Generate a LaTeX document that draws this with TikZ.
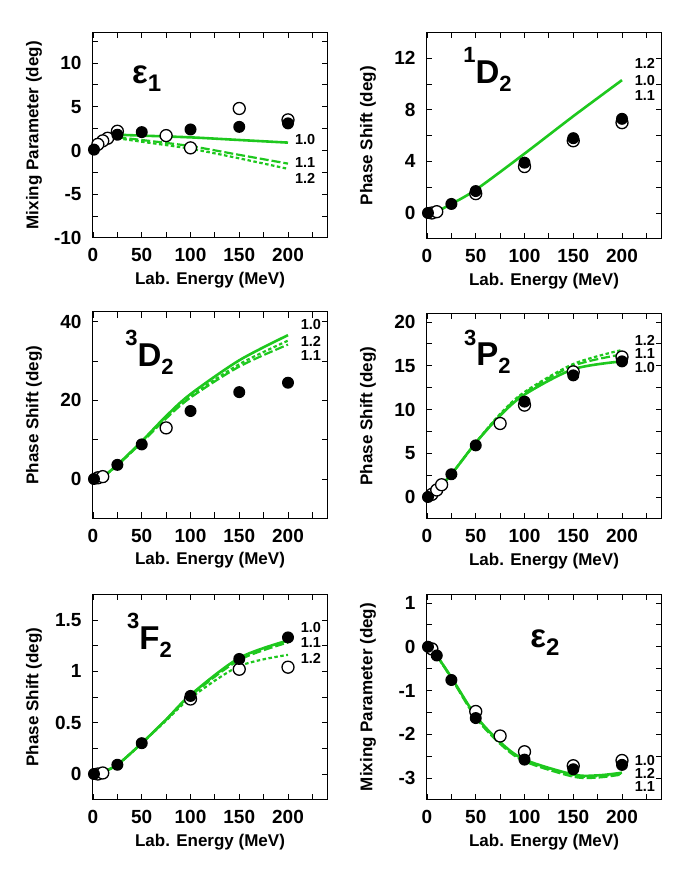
\documentclass[tikz,border=0pt]{standalone}
\usepackage{fontspec}
\setmainfont{Liberation Sans}
\usepackage{xcolor}
\definecolor{colorCurve}{RGB}{30,200,30}
\usepackage{tikz}
\usetikzlibrary{positioning}
\tikzset{
  curveA/.style={colorCurve, line width=2.6pt},
  curveB/.style={colorCurve, line width=2.2pt, dash pattern=on 9pt off 3pt},
  curveC/.style={colorCurve, line width=2.2pt, dash pattern=on 3.5pt off 2.5pt},
  dotFull/.style={fill=black},
  dotOpen/.style={fill=white, draw=black, line width=1.3pt},
  tickLab/.style={font=\fontsize{19}{19}\selectfont\bfseries},
  axisLab/.style={font=\fontsize{17}{17}\selectfont\bfseries},
  curveLab/.style={font=\fontsize{14.5}{14.5}\selectfont\bfseries, anchor=west, inner sep=0pt},
  waveLab/.style={font=\fontsize{33}{33}\selectfont\bfseries}
}
\newcommand\supsub[3]{\raisebox{1.2ex}{\fontsize{22}{22}\selectfont #1}#2\raisebox{-0.45ex}{\fontsize{22}{22}\selectfont #3}}
% frame, ticks and labels of one panel: ymin, ymax, minor ticks, labelled ticks, y title
\newcommand\axisbox[5]{
  \draw[line width=1pt] (-1,#1) rectangle (241,#2);
  \foreach \t in {0,25,...,225} {
    \draw[line width=0.8pt] (\t,#1) -- ++(0pt,6pt);
    \draw[line width=0.8pt] (\t,#2) -- ++(0pt,-6pt);
  }
  \foreach \t in {0,50,...,200}
    \node[tickLab, anchor=north] at (\t,#1) [yshift=-7pt] {\t};
  \foreach \t in {#3} {
    \draw[line width=0.8pt] (-1,\t) -- ++(6pt,0pt);
    \draw[line width=0.8pt] (241,\t) -- ++(-6pt,0pt);
  }
  \foreach \t in {#4}
    \node[tickLab, anchor=east] at (-1,\t) [xshift=-7pt] {\t};
  \node[axisLab] (xtitle) at (120,#1) [yshift=-42pt] {Lab. Energy (MeV)};
  \node[axisLab, rotate=90] (ytitle) at (-1,{(#1+#2)/2}) [yshift=58pt] {#5};
}

\begin{document}
\begin{tikzpicture}[x=1pt, y=1pt]
\useasboundingbox (0,0) rectangle (691,885);

% epsilon 1
\begin{scope}[shift={(93,734.5)}, x=0.975pt, y=8.75pt]
  \axisbox{-10}{13.5}{-7.5,-5,...,12.5}{10,5,0,-5,-10}{Mixing Parameter (deg)}
  \node[waveLab] (eps1) at (55,8.2) {ε\raisebox{-0.45ex}{\fontsize{24}{24}\selectfont 1}};
  \draw[curveA] plot[smooth] coordinates {(25,1.8) (50,1.7) (100,1.5) (150,1.2) (200,0.9)};
  \draw[curveB] plot[smooth] coordinates {(25,1.5) (50,1.2) (100,0.5) (150,-0.5) (200,-1.5)};
  \draw[curveC] plot[smooth] coordinates {(25,1.4) (50,1.0) (100,0.2) (150,-0.9) (200,-2.1)};
  \foreach \x/\y in {25/2.2,75/1.7,100/0.3,150/4.8,200/3.5,15/1.4,10/1.1,5/0.7}
    \draw[dotOpen] (\x,\y) circle [radius=6pt];
  \foreach \x/\y in {1/0.1,25/1.8,50/2.1,100/2.4,150/2.7,200/3.1}
    \fill[dotFull] (\x,\y) circle [radius=6pt];
  \node[curveLab] (lab10) at (207,1.2) {1.0};
  \node[curveLab] (lab11) at (207,-1.4) {1.1};
  \node[curveLab] (lab12) at (207,-3.2) {1.2};
\end{scope}

% 1D2
\begin{scope}[shift={(427,672)}, x=0.975pt, y=12.9pt]
  \axisbox{-2}{14}{-2,0,...,14}{0,4,8,12}{Phase Shift (deg)}
  \node[waveLab] (wave1D2) at (62,11.1) {\supsub{1}{D}{2}};
  \draw[curveA] plot[smooth] coordinates {(15,0.3) (25,0.7) (50,1.8) (100,4.6) (150,7.5) (200,10.3)};
  \foreach \x/\y in {5/0,10/0.1,50/1.5,100/3.6,150/5.6,200/7.0}
    \draw[dotOpen] (\x,\y) circle [radius=6pt];
  \foreach \x/\y in {1/0,25/0.7,50/1.7,100/3.9,150/5.8,200/7.3}
    \fill[dotFull] (\x,\y) circle [radius=6pt];
  \node[curveLab] (lab12) at (213,11.6) {1.2};
  \node[curveLab] (lab10) at (213,10.3) {1.0};
  \node[curveLab] (lab11) at (213,9.1) {1.1};
\end{scope}

% 3D2
\begin{scope}[shift={(93,406)}, x=0.975pt, y=3.93pt]
  \axisbox{-10}{42.5}{-10,0,...,40}{0,20,40}{Phase Shift (deg)}
  \node[waveLab] (wave3D2) at (58,32.3) {\supsub{3}{D}{2}};
  \draw[curveA] plot[smooth] coordinates {(10,0.5) (25,3.6) (50,9.6) (75,16) (100,21.6) (150,30.2) (200,36.6)};
  \draw[curveB] plot[smooth] coordinates {(10,0.5) (25,3.5) (50,9.3) (75,15.4) (100,20.7) (150,28.6) (200,34.2)};
  \draw[curveC] plot[smooth] coordinates {(10,0.5) (25,3.5) (50,9.4) (75,15.6) (100,21.0) (150,29.2) (200,35.2)};
  \foreach \x/\y in {5/0.3,10/0.6,75/13}
    \draw[dotOpen] (\x,\y) circle [radius=6pt];
  \foreach \x/\y in {1/0,25/3.6,50/8.8,100/17.3,150/22.1,200/24.5}
    \fill[dotFull] (\x,\y) circle [radius=6pt];
  \node[curveLab] (lab10) at (213,39.2) {1.0};
  \node[curveLab] (lab12) at (213,34.9) {1.2};
  \node[curveLab] (lab11) at (213,31.3) {1.1};
\end{scope}

% 3P2
\begin{scope}[shift={(427,388)}, x=0.975pt, y=8.75pt]
  \axisbox{-2.5}{21}{-2.5,0,...,20}{0,5,10,15,20}{Phase Shift (deg)}
  \node[waveLab] (wave3P2) at (62,16.6) {\supsub{3}{P}{2}};
  \draw[curveA] plot[smooth] coordinates {(10,0.8) (25,2.6) (50,6.2) (75,9.3) (100,11.7) (150,14.6) (200,15.5)};
  \draw[curveB] plot[smooth] coordinates {(10,0.8) (25,2.6) (50,6.2) (75,9.4) (100,11.9) (150,15.0) (200,16.3)};
  \draw[curveC] plot[smooth] coordinates {(10,0.8) (25,2.6) (50,6.2) (75,9.5) (100,12.0) (150,15.2) (200,16.8)};
  \foreach \x/\y in {5/0.3,10/0.8,15/1.4,75/8.4,100/10.5,150/14.3,200/16.0}
    \draw[dotOpen] (\x,\y) circle [radius=6pt];
  \foreach \x/\y in {1/0,25/2.6,50/5.9,100/10.9,150/13.9,200/15.5}
    \fill[dotFull] (\x,\y) circle [radius=6pt];
  \node[curveLab] (lab12) at (213,17.9) {1.2};
  \node[curveLab] (lab11) at (213,16.4) {1.1};
  \node[curveLab] (lab10) at (213,14.8) {1.0};
\end{scope}

% 3F2
\begin{scope}[shift={(93,111)}, x=0.975pt, y=102.7pt]
  \axisbox{-0.25}{1.75}{-0.25,0,...,1.75}{0,0.5,1,1.5}{Phase Shift (deg)}
  \node[waveLab] (wave3F2) at (58,1.35) {\supsub{3}{F}{2}};
  \draw[curveA] plot[smooth] coordinates {(10,0.02) (25,0.09) (50,0.3) (75,0.53) (100,0.77) (150,1.13) (200,1.30)};
  \draw[curveB] plot[smooth] coordinates {(10,0.02) (25,0.09) (50,0.3) (75,0.53) (100,0.76) (150,1.11) (200,1.28)};
  \draw[curveC] plot[smooth] coordinates {(10,0.02) (25,0.09) (50,0.3) (75,0.52) (100,0.74) (150,1.05) (200,1.16)};
  \foreach \x/\y in {5/0,10/0.01,100/0.73,150/1.02,200/1.04}
    \draw[dotOpen] (\x,\y) circle [radius=6pt];
  \foreach \x/\y in {1/0,25/0.09,50/0.3,100/0.76,150/1.12,200/1.33}
    \fill[dotFull] (\x,\y) circle [radius=6pt];
  \node[curveLab] (lab10) at (213,1.43) {1.0};
  \node[curveLab] (lab11) at (213,1.28) {1.1};
  \node[curveLab] (lab12) at (213,1.13) {1.2};
\end{scope}

% epsilon 2
\begin{scope}[shift={(427,238.25)}, x=0.975pt, y=43.75pt]
  \axisbox{-3.5}{1.2}{-3.5,-3,...,1}{1,0,-1,-2,-3}{Mixing Parameter (deg)}
  \node[waveLab] (eps2) at (121,0.1) {ε\raisebox{-0.45ex}{\fontsize{24}{24}\selectfont 2}};
  \draw[curveB] plot[smooth] coordinates {(10,-0.2) (25,-0.72) (50,-1.62) (75,-2.22) (100,-2.62) (150,-2.97) (175,-2.99) (200,-2.92)};
  \draw[curveC] plot[smooth] coordinates {(10,-0.2) (25,-0.71) (50,-1.6) (75,-2.2) (100,-2.6) (150,-2.94) (175,-2.96) (200,-2.9)};
  \draw[curveA] plot[smooth] coordinates {(10,-0.2) (25,-0.7) (50,-1.58) (75,-2.18) (100,-2.58) (150,-2.92) (175,-2.94) (200,-2.88)};
  \foreach \x/\y in {5/-0.05,50/-1.48,75/-2.04,100/-2.4,150/-2.72,200/-2.6}
    \draw[dotOpen] (\x,\y) circle [radius=6pt];
  \foreach \x/\y in {1/0,10/-0.2,25/-0.76,50/-1.63,100/-2.58,150/-2.8,200/-2.7}
    \fill[dotFull] (\x,\y) circle [radius=6pt];
  \node[curveLab] (lab10) at (213,-2.6) {1.0};
  \node[curveLab] (lab12) at (213,-2.9) {1.2};
  \node[curveLab] (lab11) at (213,-3.2) {1.1};
\end{scope}
\end{tikzpicture}
\end{document}
